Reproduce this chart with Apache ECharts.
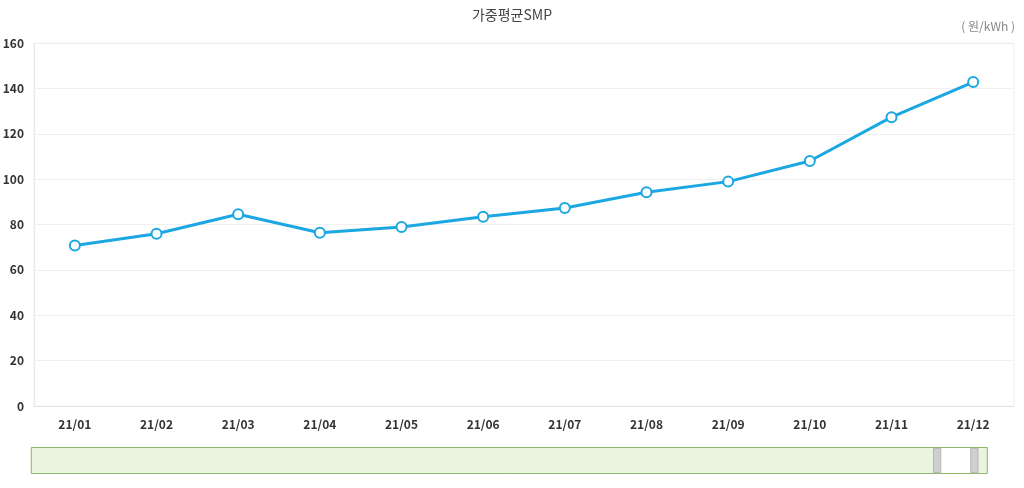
<!DOCTYPE html>
<html>
<head>
<meta charset="utf-8">
<script src="https://cdn.jsdelivr.net/npm/echarts@6/dist/echarts.min.js"></script>
<style>html,body{margin:0;padding:0;background:#fff;}#c{width:1024px;height:488px;}</style>
</head>
<body>
<div id="c"></div>
<script>
var categories = ['21/01','21/02','21/03','21/04','21/05','21/06','21/07','21/08','21/09','21/10','21/11','21/12'];
var smpValues = [70.7, 75.9, 84.5, 76.4, 78.9, 83.4, 87.3, 94.2, 98.9, 108.0, 127.3, 142.8];
var titleText = '가중평균SMP';
var unitText = '( 원/kWh )';

var font = '"Noto Sans CJK KR", "Noto Sans", sans-serif';
var chart = echarts.init(document.getElementById('c'));
chart.setOption({
  animation: false,
  backgroundColor: '#fff',
  title: {
    text: titleText, left: 'center', top: 3,
    textStyle: { fontFamily: font, fontSize: 14, fontWeight: 'normal', color: '#444' }
  },
  graphic: [{
    type: 'text', right: 9, top: 20,
    style: { text: unitText, fill: '#888', font: '12px ' + font }
  }],
  grid: { left: 34, right: 10, top: 43, bottom: 82, outerBoundsMode: 'none',
          show: true, borderColor: '#f0f0f0', borderWidth: 1 },
  xAxis: [{
    type: 'category', data: categories, boundaryGap: true,
    axisLine: { lineStyle: { color: '#e4e4e4' } },
    axisTick: { show: false },
    splitLine: { show: false },
    axisLabel: { color: '#333', fontFamily: font, fontSize: 12, fontWeight: 'bold', margin: 12 }
  }, {
    type: 'value', min: 0, max: 100, show: false
  }],
  yAxis: {
    type: 'value', min: 0, max: 160, interval: 20,
    axisLine: { show: true, lineStyle: { color: '#e8e8e8' } },
    axisTick: { show: false },
    splitLine: { lineStyle: { color: '#f0f0f0' } },
    axisLabel: { color: '#333', fontFamily: font, fontSize: 12, fontWeight: 'bold', margin: 10 }
  },
  dataZoom: [{
    type: 'slider', xAxisIndex: 1, filterMode: 'none',
    start: 94.6, end: 98.7,
    left: 30, right: 37, bottom: 14, height: 27,
    backgroundColor: '#eaf5e0',
    borderColor: '#8cb86c',
    fillerColor: '#ffffff',
    dataBackground: { lineStyle: { opacity: 0 }, areaStyle: { opacity: 0 } },
    selectedDataBackground: { lineStyle: { opacity: 0 }, areaStyle: { opacity: 0 } },
    handleIcon: 'path://M0,0 L6,0 L6,20 L0,20 Z',
    handleSize: '90%',
    handleStyle: { color: '#cfcfcf', borderColor: '#b5b5b5' },
    moveHandleSize: 0,
    showDetail: false,
    brushSelect: false,
    emphasis: { handleStyle: { color: '#cfcfcf' } }
  }],
  series: [{
    type: 'line', data: smpValues, xAxisIndex: 0,
    symbol: 'emptyCircle', symbolSize: 10,
    lineStyle: { color: '#1ba7e2', width: 3 },
    itemStyle: { color: '#1ba7e2', borderWidth: 2, borderColor: '#1ba7e2' }
  }]
});
</script>
</body>
</html>
